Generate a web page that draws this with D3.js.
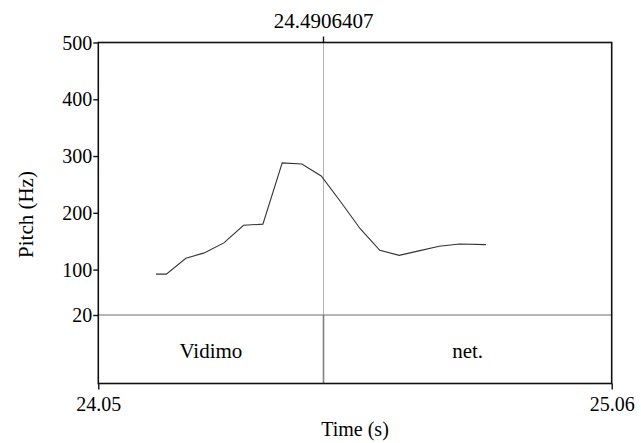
<!DOCTYPE html>
<html><head><meta charset="utf-8">
<script src="https://cdn.jsdelivr.net/npm/d3@7"></script>
<style>body{margin:0;background:#fff}svg{display:block}</style>
</head><body>
<svg id="c" width="641" height="443"></svg>
<script>
const times = [24.1613,24.1814,24.2199,24.2548,24.2947,24.3334,24.3714,24.4094,24.4481,24.4861,24.5247,24.5628,24.6014,24.6396,24.6781,24.7183,24.7582,24.8101];
const pitch = [92,92,120,129,147,178,180,288,286,265,219,172,134,125,133,141,145,144];
const yTicks = [20,100,200,300,400,500];
const timeWindow = [24.0476,25.0576];   // shown as 24.05 and 25.06
const cursorTime = 24.4906407;
const cursorLabel = "24.4906407";
const tierLabels = [{text:"Vidimo",start:24.0476,end:24.4906407},{text:"net.",start:24.4906407,end:25.0576}];

const FONT = "Liberation Serif";
const svg = d3.select("#c");
const L=98.3, R=611.7, T=42.5, P=315, B=383.5;
const x = d3.scaleLinear().domain(timeWindow).range([L,R]);
const y = d3.scaleLinear().domain([20,500]).range([P,T]);

svg.append("line").attr("x1",x(cursorTime)).attr("x2",x(cursorTime)).attr("y1",T).attr("y2",P)
  .attr("stroke","#b4b4b4").attr("stroke-width",1);
svg.append("line").attr("x1",x(cursorTime)).attr("x2",x(cursorTime)).attr("y1",P).attr("y2",B)
  .attr("stroke","#808080").attr("stroke-width",1.6);
svg.append("line").attr("x1",L).attr("x2",R).attr("y1",P).attr("y2",P)
  .attr("stroke","#707070").attr("stroke-width",1.2);

const line = d3.line().x((d,i)=>x(times[i])).y(d=>y(d));
svg.append("path").datum(pitch).attr("d",line).attr("fill","none")
  .attr("stroke","#333").attr("stroke-width",1.1);

svg.append("rect").attr("x",L).attr("y",T).attr("width",R-L).attr("height",B-T)
  .attr("fill","none").attr("stroke","#111").attr("stroke-width",1.6);

const ya = d3.axisLeft(y).tickValues(yTicks).tickSize(5).tickFormat(d3.format("d"));
const gy = svg.append("g").attr("transform",`translate(${L},0)`).call(ya);
gy.select(".domain").remove();
gy.selectAll(".tick line").attr("stroke","#111").attr("stroke-width",1.4);
gy.selectAll(".tick text").attr("x",-6).attr("dy","0.33em").attr("fill","#000")
  .style("font-family",FONT).style("font-size","20px");

const xa = d3.axisBottom(x).tickValues(timeWindow).tickSize(6).tickFormat(d3.format(".2f"));
const gx = svg.append("g").attr("transform",`translate(0,${B})`).call(xa);
gx.select(".domain").remove();
gx.selectAll(".tick line").attr("stroke","#111").attr("stroke-width",1.4);
gx.selectAll(".tick text").attr("y",10).attr("dy","0.87em").attr("fill","#000")
  .style("font-family",FONT).style("font-size","20px");

svg.append("line").attr("x1",x(cursorTime)).attr("x2",x(cursorTime)).attr("y1",T-6).attr("y2",T)
  .attr("stroke","#111").attr("stroke-width",1.4);
svg.append("text").attr("x",x(cursorTime)).attr("y",28).attr("text-anchor","middle")
  .style("font-family",FONT).style("font-size","21px").text(cursorLabel);

svg.selectAll("text.tier").data(tierLabels).enter().append("text").attr("class","tier")
  .attr("x",d=>(x(d.start)+x(d.end))/2).attr("y",357.5).attr("text-anchor","middle")
  .style("font-family",FONT).style("font-size","21px").text(d=>d.text);

svg.append("text").attr("x",(L+R)/2).attr("y",436).attr("text-anchor","middle")
  .style("font-family",FONT).style("font-size","20px").text("Time (s)");
svg.append("text").attr("transform",`translate(32.5,${(T+B)/2+1.5}) rotate(-90)`).attr("text-anchor","middle")
  .style("font-family",FONT).style("font-size","21px").text("Pitch (Hz)");
</script>
</body></html>
